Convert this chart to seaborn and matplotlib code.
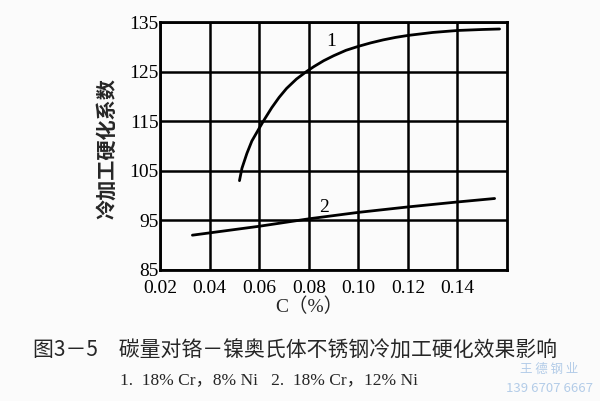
import matplotlib
matplotlib.use("Agg")
import matplotlib.pyplot as plt
import seaborn as sns
import pandas as pd

# data
c1_x = [0.052, 0.053, 0.055, 0.057, 0.060, 0.062, 0.065, 0.068, 0.071, 0.075,
        0.079, 0.082, 0.086, 0.090, 0.095, 0.100, 0.105, 0.110, 0.115, 0.120,
        0.130, 0.140, 0.150, 0.157]
c1_y = [103.0, 105.5, 108.5, 111.0, 113.6, 115.3, 117.7, 119.8, 121.6, 123.5,
        125.0, 126.0, 127.2, 128.2, 129.3, 130.1, 130.8, 131.4, 131.9, 132.3,
        132.9, 133.3, 133.5, 133.6]
c2_x = [0.033, 0.060, 0.080, 0.100, 0.120, 0.140, 0.155]
c2_y = [92.0, 93.8, 95.3, 96.6, 97.7, 98.7, 99.4]
x_ticks = [0.02, 0.04, 0.06, 0.08, 0.10, 0.12, 0.14]
y_ticks = [85, 95, 105, 115, 125, 135]
y_label = "冷加工硬化系数"
x_label = "C（%）"
caption1 = "图3－5　碳量对铬－镍奥氏体不锈钢冷加工硬化效果影响"
caption2 = "1.  18% Cr，8% Ni   2.  18% Cr，12% Ni"

sns.set_theme(style="white")
plt.rcParams['font.family'] = ['Liberation Serif', 'Noto Sans CJK SC', 'DejaVu Sans']

df = pd.concat([
    pd.DataFrame({"C": c1_x, "K": c1_y, "s": "1"}),
    pd.DataFrame({"C": c2_x, "K": c2_y, "s": "2"}),
])

fig = plt.figure(figsize=(6, 4.01), dpi=100, facecolor="#fbfbfb")
ax = fig.add_axes([0.267, 0.327, 0.578, 0.618])
ax.set_facecolor("#fbfbfb")
sns.lineplot(data=df, x="C", y="K", units="s", estimator=None, color="black",
             linewidth=2, ax=ax, sort=False)

ax.set_xlim(0.02, 0.16)
ax.set_ylim(85, 135)
ax.set_xticks(x_ticks)
ax.set_xticklabels([f"{t:.2f}" for t in x_ticks], fontsize=14)
ax.set_yticks(y_ticks)
ax.set_yticklabels([str(t) for t in y_ticks], fontsize=14)
ax.tick_params(axis="y", length=0, pad=1, colors="black")
ax.tick_params(axis="x", length=0, pad=7, colors="black")
ax.grid(True, color="black", linewidth=1.8)
for s in ax.spines.values():
    s.set_color("black")
    s.set_linewidth(2)
ax.set_xlabel("")
ax.set_ylabel("")

ax.text(0.089, 131.0, "1", fontsize=14, ha="center", va="center", color="black")
ax.text(0.086, 97.6, "2", fontsize=14, ha="center", va="center", color="black")

fig.text(0.178, 0.63, y_label, rotation=90, ha="center", va="center",
         fontsize=14.5, family=['Noto Sans CJK SC'], fontweight="bold")
fig.text(0.515, 0.235, x_label, ha="center", va="center", fontsize=14,
         family=['Liberation Serif', 'Noto Sans CJK SC'])
fig.text(0.055, 0.125, caption1, ha="left", va="center", fontsize=15,
         family=['Noto Sans CJK SC'])
fig.text(0.2, 0.052, caption2, ha="left", va="center", fontsize=12.5,
         family=['Liberation Serif', 'Noto Sans CJK SC'])
fig.text(0.915, 0.078, "王 德 钢 业", ha="center", va="center", fontsize=9,
         color="#b3cce8", family=['Noto Sans CJK SC'])
fig.text(0.915, 0.032, "139 6707 6667", ha="center", va="center", fontsize=9.5,
         color="#b3cce8", family=['Noto Sans CJK SC'])

fig.savefig("out.png", dpi=100, facecolor=fig.get_facecolor())
